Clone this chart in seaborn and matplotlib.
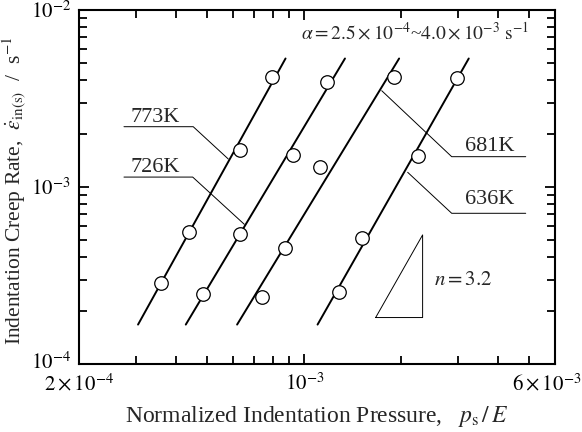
import numpy as np
import pandas as pd
import matplotlib
matplotlib.use('Agg')
import matplotlib.pyplot as plt
import matplotlib.ticker as mticker
import matplotlib.transforms as mtrans
import seaborn as sns

sns.set_theme(style='ticks')
plt.rcParams['font.family'] = ['Liberation Serif', 'DejaVu Serif']
plt.rcParams['mathtext.fontset'] = 'stix'

# data
temps = ['773K', '726K', '681K', '636K']
pressure = {
    '773K': [3.59e-4, 4.40e-4, 6.33e-4, 7.96e-4],
    '726K': [4.84e-4, 6.32e-4, 9.23e-4, 1.176e-3],
    '681K': [7.38e-4, 8.71e-4, 1.119e-3, 1.898e-3],
    '636K': [1.282e-3, 1.51e-3, 2.25e-3, 2.98e-3],
}
rate = {
    '773K': [2.88e-4, 5.55e-4, 1.618e-3, 4.20e-3],
    '726K': [2.49e-4, 5.43e-4, 1.517e-3, 3.94e-3],
    '681K': [2.40e-4, 4.54e-4, 1.303e-3, 4.17e-3],
    '636K': [2.56e-4, 5.13e-4, 1.496e-3, 4.11e-3],
}
# fitted lines (slope n ~ 3.2), ends
fit_rate = [1.67e-4, 5.32e-3]
fit_p_lo = [3.05e-4, 4.29e-4, 6.19e-4, 1.10e-3]
fit_p_hi = [8.75e-4, 1.338e-3, 1.97e-3, 3.24e-3]
# slope triangle
tri_p = [1.666e-3, 2.33e-3, 2.33e-3, 1.666e-3]
tri_rate = [1.83e-4, 1.83e-4, 5.36e-4, 1.83e-4]

pts = pd.DataFrame([(t, p, r) for t in temps for p, r in zip(pressure[t], rate[t])],
                   columns=['T', 'p', 'rate'])
fits = pd.DataFrame([(t, p, r) for t, lo, hi in zip(temps, fit_p_lo, fit_p_hi)
                     for p, r in zip([lo, hi], fit_rate)], columns=['T', 'p', 'rate'])

fig = plt.figure(figsize=(5.82, 4.32), dpi=100)
ax = fig.add_axes([0.1357, 0.1574, 0.8179, 0.8195])
ax.set_xscale('log')
ax.set_yscale('log')

for t in temps:
    sns.lineplot(data=fits[fits['T'] == t], x='p', y='rate', color='black',
                 linewidth=1.4, ax=ax, legend=False, zorder=2)
sns.scatterplot(data=pts, x='p', y='rate', marker='o', s=95, facecolor='white',
                edgecolor='black', linewidth=0.9, ax=ax, legend=False, zorder=3)
ax.plot(tri_p, tri_rate, color='black', linewidth=0.7)

ax.set_xlim(2e-4, 6e-3)
ax.set_ylim(1e-4, 1e-2)

# leaders and labels (axes fraction)
lw = 0.7
ax.plot([0.0945, 0.240, 0.3137], [0.6703, 0.6703, 0.579], color='black', lw=lw, transform=ax.transAxes)
ax.plot([0.0945, 0.2389, 0.3473], [0.528, 0.528, 0.3946], color='black', lw=lw, transform=ax.transAxes)
ax.plot([0.636, 0.783, 0.9385], [0.772, 0.5856, 0.5856], color='black', lw=lw, transform=ax.transAxes)
ax.plot([0.6905, 0.783, 0.9385], [0.5415, 0.4257, 0.4257], color='black', lw=lw, transform=ax.transAxes)
fs = 16
ax.text(0.160, 0.697, '773K', transform=ax.transAxes, ha='center', va='center', fontsize=fs)
ax.text(0.160, 0.556, '726K', transform=ax.transAxes, ha='center', va='center', fontsize=fs)
ax.text(0.8634, 0.615, '681K', transform=ax.transAxes, ha='center', va='center', fontsize=fs)
ax.text(0.8634, 0.465, '636K', transform=ax.transAxes, ha='center', va='center', fontsize=fs)
ax.text(0.706, 0.938, r'$\alpha = 2.5\times10^{-4}$~$4.0\times10^{-3}\ \mathrm{s}^{-1}$',
        transform=ax.transAxes, ha='center', va='center', fontsize=14)
ax.text(0.746, 0.237, r'$n = 3.2$', transform=ax.transAxes, ha='left', va='center', fontsize=15)

ax.xaxis.set_major_locator(mticker.FixedLocator([2e-4, 1e-3, 6e-3]))
ax.xaxis.set_major_formatter(mticker.FixedFormatter(
    [r'$2\times10^{-4}$', r'$10^{-3}$', r'$6\times10^{-3}$']))
ax.xaxis.set_minor_locator(mticker.LogLocator(base=10, subs=np.arange(2, 10), numticks=20))
ax.xaxis.set_minor_formatter(mticker.NullFormatter())
ax.yaxis.set_major_locator(mticker.FixedLocator([1e-4, 1e-3, 1e-2]))
ax.yaxis.set_major_formatter(mticker.FixedFormatter([r'$10^{-4}$', r'$10^{-3}$', r'$10^{-2}$']))
ax.yaxis.set_minor_locator(mticker.LogLocator(base=10, subs=np.arange(2, 10), numticks=20))
ax.yaxis.set_minor_formatter(mticker.NullFormatter())

ax.tick_params(which='both', direction='in', top=True, right=True, width=1.3,
               labelsize=15, colors='black')
ax.tick_params(which='major', length=7)
ax.tick_params(axis='x', which='major', pad=7)
ax.tick_params(axis='y', which='major', pad=6)
ax.tick_params(which='minor', length=6)
for s in ax.spines.values():
    s.set_linewidth(1.5)
    s.set_color('black')

# pull the last x tick label inside the figure, lift the lowest y label a bit
xl = ax.get_xticklabels()
xl[-1].set_transform(xl[-1].get_transform() + mtrans.ScaledTranslation(-8 / 100, 0, fig.dpi_scale_trans))
yl = ax.get_yticklabels()
yl[0].set_transform(yl[0].get_transform() + mtrans.ScaledTranslation(0, 3 / 100, fig.dpi_scale_trans))

ax.set_xlabel(r'Normalized Indentation Pressure,   $p_{\mathrm{s}}\,/\,E$', fontsize=17, labelpad=6)
ax.set_ylabel(r'Indentation Creep Rate,  $\dot{\varepsilon}_{\mathrm{in(s)}}$  /  s$^{-1}$',
              fontsize=15.5)
ax.yaxis.set_label_coords(-0.104, 0.49)

fig.savefig('out.png', dpi=100)
